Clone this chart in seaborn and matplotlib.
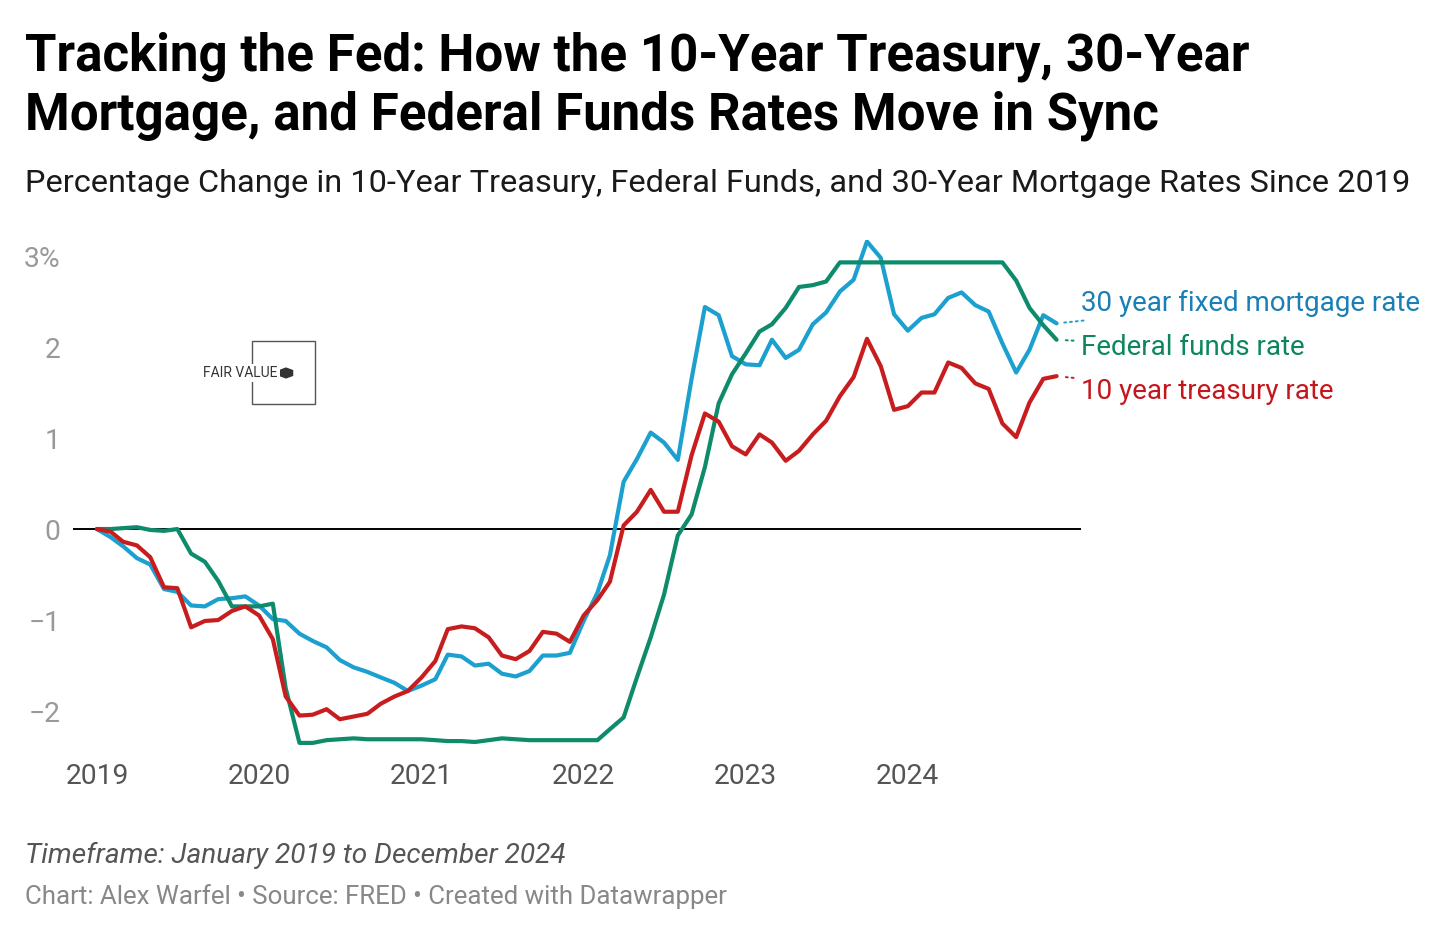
import matplotlib
matplotlib.use("Agg")
import matplotlib.pyplot as plt
import matplotlib.patches as mpatches
import seaborn as sns
import pandas as pd

# monthly change in percentage points since Jan 2019
months = pd.date_range("2019-01-01", "2024-12-01", freq="MS")

mortgage_30y = [
    0.00, -0.09, -0.19, -0.32, -0.39, -0.66, -0.69, -0.84, -0.85, -0.77, -0.76, -0.74,
    -0.84, -0.99, -1.01, -1.15, -1.23, -1.30, -1.44, -1.52, -1.57, -1.63, -1.69, -1.78,
    -1.72, -1.65, -1.38, -1.40, -1.50, -1.48, -1.59, -1.62, -1.56, -1.39, -1.39, -1.36,
    -1.01, -0.70, -0.29, 0.52, 0.77, 1.06, 0.95, 0.76, 1.65, 2.44, 2.35, 1.90,
    1.81, 1.80, 2.08, 1.88, 1.97, 2.25, 2.38, 2.61, 2.74, 3.16, 2.98, 2.36,
    2.18, 2.32, 2.36, 2.54, 2.60, 2.46, 2.39, 2.04, 1.72, 1.97, 2.35, 2.26,
]
fed_funds = [
    0.00, 0.00, 0.01, 0.02, -0.01, -0.02, 0.00, -0.27, -0.36, -0.57, -0.85, -0.85,
    -0.85, -0.82, -1.75, -2.35, -2.35, -2.32, -2.31, -2.30, -2.31, -2.31, -2.31, -2.31,
    -2.31, -2.32, -2.33, -2.33, -2.34, -2.32, -2.30, -2.31, -2.32, -2.32, -2.32, -2.32,
    -2.32, -2.32, -2.20, -2.07, -1.63, -1.19, -0.72, -0.07, 0.16, 0.68, 1.38, 1.70,
    1.93, 2.17, 2.25, 2.43, 2.66, 2.68, 2.72, 2.93, 2.93, 2.93, 2.93, 2.93,
    2.93, 2.93, 2.93, 2.93, 2.93, 2.93, 2.93, 2.93, 2.73, 2.43, 2.24, 2.08,
]
treasury_10y = [
    0.00, -0.03, -0.14, -0.18, -0.31, -0.64, -0.65, -1.08, -1.01, -1.00, -0.90, -0.85,
    -0.95, -1.21, -1.84, -2.05, -2.04, -1.98, -2.09, -2.06, -2.03, -1.92, -1.84, -1.78,
    -1.63, -1.45, -1.10, -1.07, -1.09, -1.19, -1.39, -1.43, -1.34, -1.13, -1.15, -1.24,
    -0.95, -0.78, -0.58, 0.04, 0.19, 0.43, 0.19, 0.19, 0.81, 1.27, 1.18, 0.91,
    0.82, 1.04, 0.95, 0.75, 0.86, 1.04, 1.19, 1.46, 1.67, 2.09, 1.79, 1.31,
    1.35, 1.50, 1.50, 1.83, 1.77, 1.60, 1.54, 1.16, 1.01, 1.39, 1.65, 1.68,
]

series_names = ["30 year fixed mortgage rate", "Federal funds rate", "10 year treasury rate"]
line_colors = ["#1ba0cf", "#0e8b6b", "#c81d1f"]
label_colors = ["#1a7fb5", "#0d8660", "#c4161c"]
label_y = [2.48, 2.00, 1.51]

year_ticks = pd.to_datetime(["2019-01-01", "2020-01-01", "2021-01-01",
                             "2022-01-01", "2023-01-01", "2024-01-01"])
year_labels = ["2019", "2020", "2021", "2022", "2023", "2024"]
y_ticks = [-2, -1, 0, 1, 2, 3]
y_labels = ["\u22122", "\u22121", "0", "1", "2", "3%"]

df = pd.DataFrame({
    "date": list(months) * 3,
    "value": mortgage_30y + fed_funds + treasury_10y,
    "series": [n for n in series_names for _ in months],
})

sns.set_style("white")
plt.rcParams["font.family"] = ["Roboto", "DejaVu Sans"]

fig = plt.figure(figsize=(14.56, 9.39), dpi=100)
ax = fig.add_axes([73 / 1456, 1 - 752 / 939, 1008 / 1456, 512 / 939])

ax.axhline(0, color="black", lw=1.4, zorder=1)
sns.lineplot(data=df, x="date", y="value", hue="series", hue_order=series_names,
             palette=line_colors, linewidth=3.0, legend=False, ax=ax, zorder=3)

ax.set_xlim(pd.Timestamp("2018-11-08"), pd.Timestamp("2025-01-25"))
ax.set_ylim(-2.45, 3.176)
ax.set_xticks(year_ticks)
ax.set_xticklabels(year_labels)
ax.set_yticks(y_ticks)
ax.set_yticklabels(y_labels)
ax.tick_params(axis="x", length=0, pad=8, labelsize=20.3, labelcolor="#555555")
ax.tick_params(axis="y", length=0, pad=9, labelsize=20.3, labelcolor="#999999")
ax.set_xlabel("")
ax.set_ylabel("")
for s in ax.spines.values():
    s.set_visible(False)

# direct labels with dotted connectors
last_vals = [mortgage_30y[-1], fed_funds[-1], treasury_10y[-1]]
for name, v, ly, c, lc in zip(series_names, last_vals, label_y, line_colors, label_colors):
    ax.annotate(name, xy=(months[-1], v), xytext=(1.0, ly),
                textcoords=("axes fraction", "data"), ha="left", va="center",
                fontsize=20, color=lc, annotation_clip=False,
                arrowprops=dict(arrowstyle="-", color=c, linestyle=(0, (1, 2)),
                                lw=1.4, shrinkA=3, shrinkB=4))

# logo
fig.patches.append(mpatches.Rectangle((252 / 1456, 1 - 404 / 939), 63 / 1456, 63 / 939,
                                      transform=fig.transFigure, fill=False,
                                      edgecolor="#555555", lw=1.0))
fig.text(203 / 1456, 1 - 373 / 939, "FAIR VALUE", fontsize=10, color="#333333",
         va="center", ha="left",
         bbox=dict(facecolor="white", edgecolor="none", pad=1.5))
fig.patches.append(mpatches.RegularPolygon((286 / 1456, 1 - 373 / 939), 6, radius=0.0052,
                                           transform=fig.transFigure, color="#333333"))

# titles
fig.text(25 / 1456, 1 - 32 / 939,
         "Tracking the Fed: How the 10-Year Treasury, 30-Year\n"
         "Mortgage, and Federal Funds Rates Move in Sync",
         fontsize=36.7, fontweight="bold", color="black", va="top", ha="left",
         linespacing=1.2)
fig.text(25 / 1456, 1 - 184 / 939,
         "Percentage Change in 10-Year Treasury, Federal Funds, and 30-Year Mortgage Rates Since 2019",
         fontsize=23.4, color="#1a1a1a", va="center", ha="left")

# footer
fig.text(25 / 1456, 1 - 855 / 939, "Timeframe: January 2019 to December 2024",
         fontsize=20.2, style="italic", color="#555555", va="center", ha="left")
fig.text(25 / 1456, 1 - 897 / 939,
         "Chart: Alex Warfel \u2022 Source: FRED \u2022 Created with Datawrapper",
         fontsize=18.6, color="#888888", va="center", ha="left")

fig.savefig("out.png", dpi=100, facecolor="white")
plt.close(fig)
